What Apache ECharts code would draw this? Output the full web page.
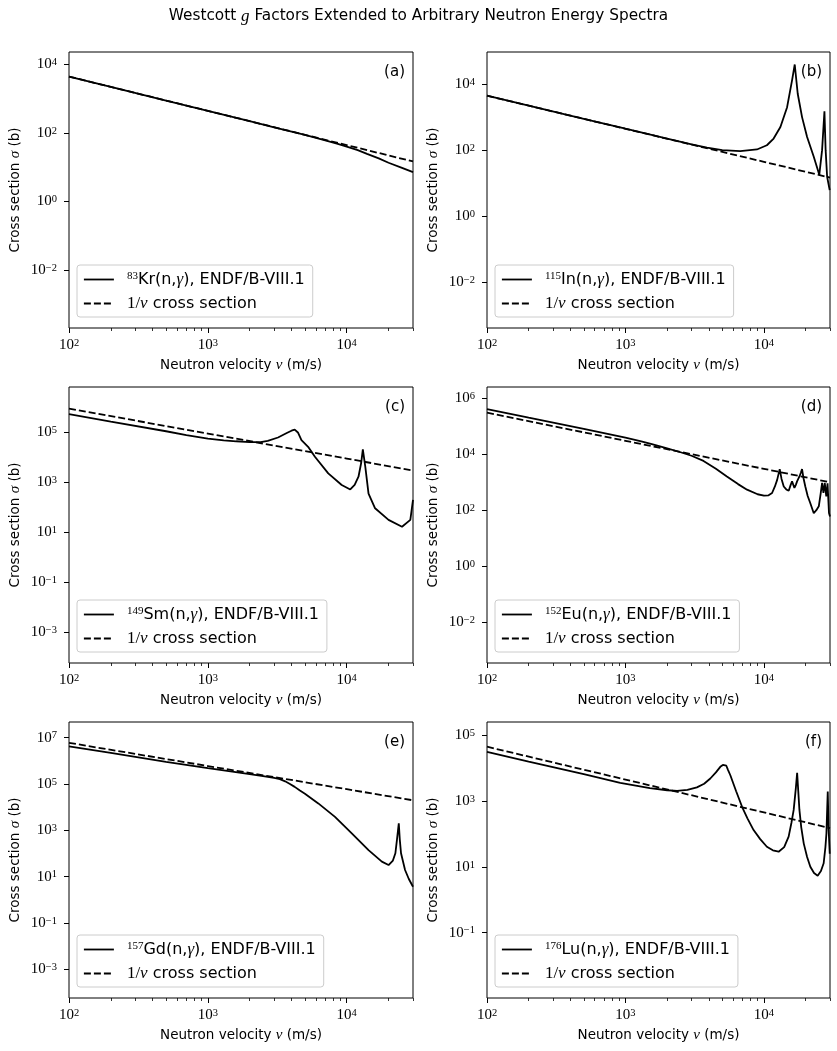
<!DOCTYPE html>
<html>
<head>
<meta charset="utf-8">
<script src="https://cdn.jsdelivr.net/npm/echarts@6/dist/echarts.min.js"></script>
<style>
  html, body { margin: 0; padding: 0; background: #fff; }
  #chart { width: 837px; height: 1051px; }
</style>
</head>
<body>
<div id="chart"></div>
<script>
// neutron velocity (m/s) and capture cross section (b)
const krV = [100, 200, 500, 1000, 2000, 3000, 5000, 7000, 8500, 10000, 12000, 14000, 17000, 20000, 25000, 30000];
const krSigma = [4400, 2200, 880, 440, 220, 146, 87, 61, 49, 40, 31.5, 24.5, 18, 13.5, 9.6, 7.2];

const inV = [100, 200, 500, 1000, 2000, 3000, 3880, 5000, 6750, 8900, 10500, 11750, 13150, 14700, 15960, 16690, 17540, 18850, 20500, 22900, 25100, 26300, 27350, 27900, 28600, 29850];
const inSigma = [4450, 2230, 890, 445, 224, 150, 120, 100, 93, 105, 141, 225, 500, 2000, 12900, 39000, 5100, 1000, 250, 63, 18, 100, 1490, 100, 15.7, 6.2];

const smV = [100, 200, 500, 700, 1000, 1300, 1600, 2000, 2400, 2700, 3200, 3700, 4000, 4220, 4450, 4720, 5270, 5900, 7360, 9200, 10600, 11400, 12150, 12700, 13060, 13600, 14350, 16000, 20000, 25000, 28700, 30000];
const smSigma = [540000, 270000, 112000, 79000, 56500, 48500, 44500, 41500, 41000, 46000, 63000, 95000, 118000, 130000, 100000, 49000, 26600, 10700, 2300, 790, 525, 800, 1700, 6000, 21000, 4300, 360, 93, 32, 17, 32, 200];

const euV = [100, 200, 500, 1000, 1300, 1600, 2000, 2500, 3000, 3660, 4500, 5400, 6500, 7550, 9000, 10000, 10800, 11450, 12000, 12460, 13000, 13400, 13900, 14500, 15100, 15600, 15960, 16300, 16600, 17000, 17350, 18050, 18500, 18850, 19300, 19900, 20700, 21600, 22900, 23900, 24900, 25700, 26300, 26900, 27500, 28200, 28800, 29500, 30000];
const euSigma = [400000, 198000, 79000, 38500, 28500, 21500, 15800, 11600, 8700, 5700, 3000, 1600, 850, 540, 370, 330, 340, 410, 700, 1200, 2900, 1300, 700, 550, 490, 800, 1060, 800, 620, 800, 1060, 1590, 2200, 2930, 1400, 700, 320, 180, 78, 100, 138, 400, 940, 410, 940, 310, 900, 80, 60];

const gdV = [100, 200, 500, 1000, 1500, 2000, 2500, 3000, 3300, 3600, 3900, 4220, 4600, 5000, 6240, 8230, 10870, 14350, 17900, 20000, 21500, 22400, 23000, 23700, 24100, 24600, 26300, 28000, 30000];
const gdSigma = [4200000, 2200000, 900000, 480000, 340000, 265000, 220000, 182000, 162000, 130000, 100000, 75000, 52000, 38000, 14500, 3800, 740, 141, 45, 32, 50, 103, 400, 2000, 400, 103, 19.5, 8, 3.7];

const luV = [100, 200, 500, 917, 1500, 2000, 2360, 2800, 3280, 3700, 4100, 4500, 4840, 5050, 5200, 5350, 5500, 5720, 6300, 6950, 7600, 8420, 9400, 10500, 11600, 12770, 14000, 15080, 15800, 16400, 17000, 17370, 17700, 18040, 18600, 19380, 20500, 21630, 23000, 24440, 25800, 27000, 27800, 28270, 28600, 28900, 29300, 29870];
const luSigma = [31700, 16000, 6600, 3600, 2500, 2150, 2070, 2200, 2630, 3400, 4900, 7500, 11100, 12700, 13100, 12000, 9000, 6150, 2000, 675, 300, 132, 70, 41, 32, 29, 40, 83, 220, 540, 2500, 7300, 2000, 540, 160, 52, 20, 10.1, 6.5, 5.4, 7.5, 12.9, 40, 104, 500, 1950, 150, 25];

// 1/v reference lines
const invV = [100, 1000, 10000, 30000];
const krInv = [4400, 440, 44, 14.7];
const inInv = [4444, 444, 44.4, 14.8];
const smInv = [902000, 90200, 9020, 3007];
const euInv = [297000, 29700, 2970, 990];
const gdInv = [5940000, 594000, 59400, 19800];
const luInv = [45400, 4540, 454, 151];

// tick values
const xTicks = [100, 1000, 10000];
const xMinorTicks = [200, 300, 400, 500, 600, 700, 800, 900, 2000, 3000, 4000, 5000, 6000, 7000, 8000, 9000, 20000, 30000];
const yTicksA = [1e-2, 1, 1e2, 1e4];
const yTicksB = [1e-2, 1, 1e2, 1e4];
const yTicksC = [1e-3, 1e-1, 1e1, 1e3, 1e5];
const yTicksD = [1e-2, 1, 1e2, 1e4, 1e6];
const yTicksE = [1e-3, 1e-1, 1e1, 1e3, 1e5, 1e7];
const yTicksF = [1e-1, 1e1, 1e3, 1e5];

const invName = '1/v cross section';
const panels = [
  { label: '(a)', name: '83Kr(n,γ), ENDF/B-VIII.1', v: krV, s: krSigma, inv: krInv, yMin: 2.04e-4, yMax: 2.29e4, yTicks: yTicksA },
  { label: '(b)', name: '115In(n,γ), ENDF/B-VIII.1', v: inV, s: inSigma, inv: inInv, yMin: 4.17e-4, yMax: 9.33e4, yTicks: yTicksB },
  { label: '(c)', name: '149Sm(n,γ), ENDF/B-VIII.1', v: smV, s: smSigma, inv: smInv, yMin: 6.0e-5, yMax: 6.6e6, yTicks: yTicksC },
  { label: '(d)', name: '152Eu(n,γ), ENDF/B-VIII.1', v: euV, s: euSigma, inv: euInv, yMin: 3.6e-4, yMax: 2.45e6, yTicks: yTicksD },
  { label: '(e)', name: '157Gd(n,γ), ENDF/B-VIII.1', v: gdV, s: gdSigma, inv: gdInv, yMin: 5.9e-5, yMax: 4.7e7, yTicks: yTicksE },
  { label: '(f)', name: '176Lu(n,γ), ENDF/B-VIII.1', v: luV, s: luSigma, inv: luInv, yMin: 1.02e-3, yMax: 2.57e5, yTicks: yTicksF },
];

const SANS = 'DejaVu Sans';
const SERIF = 'Liberation Serif';
const colLeft = [69, 487];
const rowTop = [52, 387, 722];

const powRich = {
  b: { fontFamily: SERIF, fontSize: 15, color: '#000' },
  s: { fontFamily: SERIF, fontSize: 10.5, color: '#000', verticalAlign: 'top' }
};
const powLabel = (val) => {
  const e = Math.round(Math.log10(val));
  return '{b|10}{s|' + (e < 0 ? '\u2212' + (-e) : e) + '}';
};

const grid = [], xAxis = [], yAxis = [], series = [], legend = [], graphic = [];

panels.forEach((p, i) => {
  const left = colLeft[i % 2];
  const top = rowTop[Math.floor(i / 2)];
  const width = i % 2 ? 343 : 344;
  grid.push({ left: left, top: top, width: width, height: 276, show: true, borderColor: '#000', borderWidth: 1, backgroundColor: '#fff' });

  xAxis.push({
    type: 'log', logBase: 10, gridIndex: i, min: 100, max: 30000,
    splitLine: { show: false }, axisLine: { show: false },
    axisTick: { show: true, length: 5, customValues: xTicks, lineStyle: { color: '#000', width: 1 } },
    axisLabel: { customValues: xTicks, formatter: powLabel, rich: powRich, margin: 10 },
    name: 'Neutron velocity {i|v} (m/s)', nameLocation: 'middle', nameGap: 30,
    nameTextStyle: { fontFamily: SANS, fontSize: 13.5, color: '#000',
      rich: { i: { fontFamily: SERIF, fontStyle: 'italic', fontSize: 15, color: '#000' } } }
  });
  xAxis.push({
    type: 'log', logBase: 10, gridIndex: i, min: 100, max: 30000, position: 'bottom',
    splitLine: { show: false }, axisLine: { show: false }, axisLabel: { show: false },
    axisTick: { show: true, length: 3, customValues: xMinorTicks, lineStyle: { color: '#000', width: 0.8 } }
  });

  yAxis.push({
    type: 'log', logBase: 10, gridIndex: i, min: p.yMin, max: p.yMax,
    splitLine: { show: false }, axisLine: { show: false },
    axisTick: { show: true, length: 5, customValues: p.yTicks, lineStyle: { color: '#000', width: 1 } },
    axisLabel: { customValues: p.yTicks, formatter: powLabel, rich: powRich, margin: 12 },
    name: 'Cross section {i|σ} (b)', nameLocation: 'middle', nameRotate: 90, nameGap: 46,
    nameTextStyle: { fontFamily: SANS, fontSize: 13.5, color: '#000',
      rich: { i: { fontFamily: SERIF, fontStyle: 'italic', fontSize: 15, color: '#000' } } }
  });

  series.push({
    type: 'line', name: p.name, xAxisIndex: 2 * i, yAxisIndex: i,
    data: p.v.map((v, k) => [v, p.s[k]]),
    symbol: 'none', lineStyle: { color: '#000', width: 1.8 }, itemStyle: { color: '#000' },
    animation: false
  });
  series.push({
    type: 'line', name: invName, xAxisIndex: 2 * i, yAxisIndex: i,
    data: invV.map((v, k) => [v, p.inv[k]]),
    symbol: 'none', lineStyle: { color: '#000', width: 1.8, type: [7, 3] }, itemStyle: { color: '#000' },
    animation: false
  });

  legend.push({
    data: [p.name, invName], orient: 'vertical', left: left + 8, top: top + 213,
    itemWidth: 30, itemHeight: 14, itemGap: 7, selectedMode: false,
    padding: [6, 8, 5, 6], backgroundColor: 'rgba(255,255,255,0.8)',
    borderColor: '#cccccc', borderWidth: 1, borderRadius: 3,
    lineStyle: { width: 1.8 },
    itemStyle: { opacity: 0 },
    formatter: (name) => name === invName
      ? '{m|1/}{mi|v} cross section'
      : name.replace(/^(\d+)/, '{sup|$1}').replace('γ', '{mi|γ}'),
    textStyle: {
      fontFamily: SANS, fontSize: 16, color: '#000', padding: [0, 0, 0, 8],
      rich: {
        sup: { fontFamily: SERIF, fontSize: 11, color: '#000', verticalAlign: 'top' },
        mi: { fontFamily: SERIF, fontStyle: 'italic', fontSize: 17, color: '#000' },
        m: { fontFamily: SERIF, fontSize: 17, color: '#000' }
      }
    }
  });

  graphic.push({
    type: 'text', right: 837 - (left + width) + 8, top: top + 13,
    style: { text: p.label, fontFamily: SANS, fontSize: 15, fill: '#000' }
  });
});

const chart = echarts.init(document.getElementById('chart'), null, { renderer: 'canvas' });
chart.setOption({
  backgroundColor: '#fff',
  animation: false,
  title: {
    text: 'Westcott {i|g} Factors Extended to Arbitrary Neutron Energy Spectra',
    left: 'center', top: 3,
    textStyle: {
      fontFamily: SANS, fontSize: 15.3, fontWeight: 'normal', color: '#000',
      rich: { i: { fontFamily: SERIF, fontStyle: 'italic', fontSize: 17, color: '#000' } }
    }
  },
  grid: grid,
  xAxis: xAxis,
  yAxis: yAxis,
  legend: legend,
  graphic: graphic,
  series: series
});
</script>
</body>
</html>
